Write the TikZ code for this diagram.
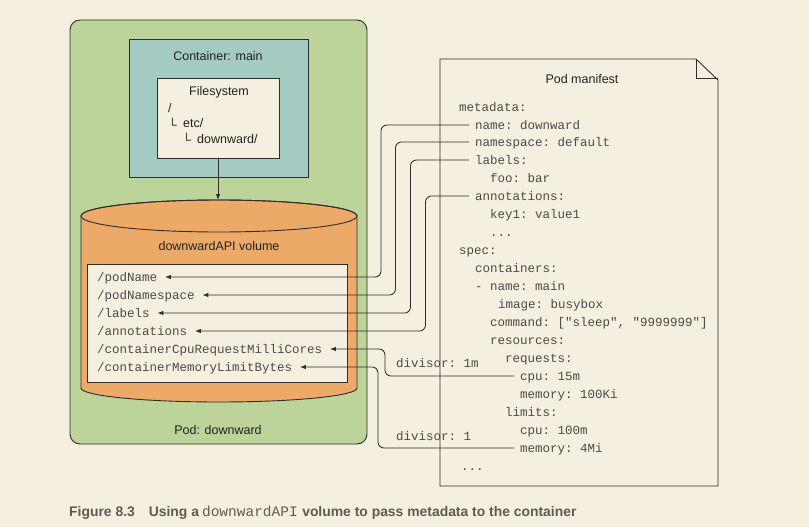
\documentclass[tikz,border=0pt]{standalone}
\usepackage{fontspec}
\setmainfont{Liberation Sans}
\setmonofont{Liberation Mono}
\usetikzlibrary{arrows.meta}
\definecolor{bg}{HTML}{F5EFDF}
\definecolor{podg}{HTML}{BCD39A}
\definecolor{teal}{HTML}{A3CBC2}
\definecolor{orng}{HTML}{EDA968}
\definecolor{ln}{HTML}{2E2E2E}
\definecolor{txt}{HTML}{222222}
\definecolor{mtxt}{HTML}{4A4A4A}
\definecolor{capc}{HTML}{5E5A55}
\begin{document}
\begin{tikzpicture}[x=1pt,y=-1pt,
  sans/.style={font=\fontsize{12.5}{14}\selectfont, text=txt, inner sep=0pt},
  mono/.style={font=\ttfamily\fontsize{12.5}{14}\selectfont, text=mtxt, inner sep=0pt, anchor=west, text height=8.5pt, text depth=0.5pt},
  box/.style={draw=ln, line width=0.9pt, inner sep=0pt},
  conn/.style={draw=ln, line width=0.85pt, rounded corners=6pt, -{Latex[length=6pt,width=4.5pt]}}]
\useasboundingbox (0,0) rectangle (809,527);
\fill[bg] (0,0) rectangle (809,527);

% Pod
\node[box, fill=podg, rounded corners=10pt, minimum width=297pt, minimum height=424pt] (pod) at (218.5,232) {};
\node[box, fill=teal, minimum width=179pt, minimum height=138pt] (cont) at (218.5,108) {};
\node[box, fill=bg, minimum width=122pt, minimum height=80pt] (fs) at (218,118) {};
\node[sans] (conttitle) at (218,56.5) {Container: main};
\node[sans] (fstitle) at (219,92.5) {Filesystem};
\node[sans, anchor=west] (fs1) at (168,108) {/};
\node[sans, anchor=west] (fs2) at (168,123.5) {└};
\node[sans, anchor=west] (fs2t) at (183,123.5) {etc/};
\node[sans, anchor=west] (fs3) at (182,139) {└};
\node[sans, anchor=west] (fs3t) at (197,139) {downward/};

% Cylinder
\coordinate (cyltop) at (218,200);
\filldraw[fill=orng, draw=ln, line width=0.9pt] (81,216) -- (81,388)
  arc[start angle=180, end angle=360, x radius=138pt, y radius=14pt]
  -- (357,216)
  arc[start angle=0, end angle=180, x radius=138pt, y radius=16pt] -- cycle;
\draw[draw=ln, line width=0.9pt] (219,216) ellipse [x radius=138pt, y radius=16pt];
\draw[conn] (fs.south) -- (cyltop);
\node[sans] (voltitle) at (219,246) {downwardAPI volume};
\node[box, fill=bg, minimum width=260pt, minimum height=118pt] (list) at (217,323) {};
\node[sans] (podtitle) at (218,430.5) {Pod: downward};

\node[mono] (lpn)   at (97,277) {/podName};
\node[mono] (lns)   at (97,295) {/podNamespace};
\node[mono] (llab)  at (97,313) {/labels};
\node[mono] (lann)  at (97,331) {/annotations};
\node[mono] (lcpu)  at (97,349) {/containerCpuRequestMilliCores};
\node[mono] (lmem)  at (97,367) {/containerMemoryLimitBytes};

% Manifest
\filldraw[fill=bg, draw=ln, line width=0.9pt] (440,59) -- (696,59) -- (718,80) -- (718,486) -- (440,486) -- cycle;
\draw[draw=ln, line width=0.9pt] (696,59) -- (696,78) -- (718,78);
\node[sans] (mtitle) at (582,79.5) {Pod manifest};

\node[mono] (m1)   at (459,107) {metadata:};
\node[mono] (mname) at (475,125) {name: downward};
\node[mono] (mns)  at (475,142) {namespace: default};
\node[mono] (mlab) at (475,160) {labels:};
\node[mono] (m5)   at (490,178) {foo: bar};
\node[mono] (mann) at (475,196) {annotations:};
\node[mono] (m7)   at (490,214) {key1: value1};
\node[mono] (m8)   at (490,232) {...};
\node[mono] (m9)   at (459,250) {spec:};
\node[mono] (m10)  at (475,268) {containers:};
\node[mono] (m11)  at (475,286) {- name: main};
\node[mono] (m12)  at (498,304) {image: busybox};
\node[mono] (m13)  at (490,322) {command: ["sleep", "9999999"]};
\node[mono] (m14)  at (490,340) {resources:};
\node[mono] (m15)  at (505,358) {requests:};
\node[mono] (mcpu) at (520,376) {cpu: 15m};
\node[mono] (m17)  at (520,394) {memory: 100Ki};
\node[mono] (m18)  at (505,412) {limits:};
\node[mono] (m19)  at (520,430) {cpu: 100m};
\node[mono] (mmem) at (520,448) {memory: 4Mi};
\node[mono] (m21)  at (461,466) {...};

% Connectors
\coordinate (v1) at (381,0);
\coordinate (v2) at (395.5,0);
\coordinate (v3) at (410.5,0);
\coordinate (v4) at (425.5,0);
\coordinate (v5) at (385,0);
\coordinate (v6) at (378,0);
\draw[conn] ([xshift=-6pt]mname.west) -| (v1 |- lpn.east) -- ([xshift=7.5pt]lpn.east);
\draw[conn] ([xshift=-6pt]mns.west) -| (v2 |- lns.east) -- ([xshift=7.5pt]lns.east);
\draw[conn] ([xshift=-6pt]mlab.west) -| (v3 |- llab.east) -- ([xshift=7.5pt]llab.east);
\draw[conn] ([xshift=-6pt]mann.west) -| (v4 |- lann.east) -- ([xshift=7.5pt]lann.east);
\draw[conn] ([xshift=-6pt]mcpu.west) -| (v5 |- lcpu.east) -- ([xshift=7.5pt]lcpu.east);
\draw[conn] ([xshift=-6pt]mmem.west) -| (v6 |- lmem.east) -- ([xshift=7.5pt]lmem.east);
\node[mono] (div1) at (396,363) {divisor: 1m};
\node[mono] (div2) at (396,436) {divisor: 1};

% Caption
\node[anchor=base west, inner sep=0pt, text=capc, font=\bfseries\fontsize{13.9}{16}\selectfont] (cap) at (69,516)
  {Figure 8.3\hspace{14pt}Using a\hspace{3pt}{\mdseries\ttfamily\fontsize{14.5}{16}\selectfont downwardAPI}\hspace{4.5pt}volume to pass metadata to the container};
\end{tikzpicture}
\end{document}
